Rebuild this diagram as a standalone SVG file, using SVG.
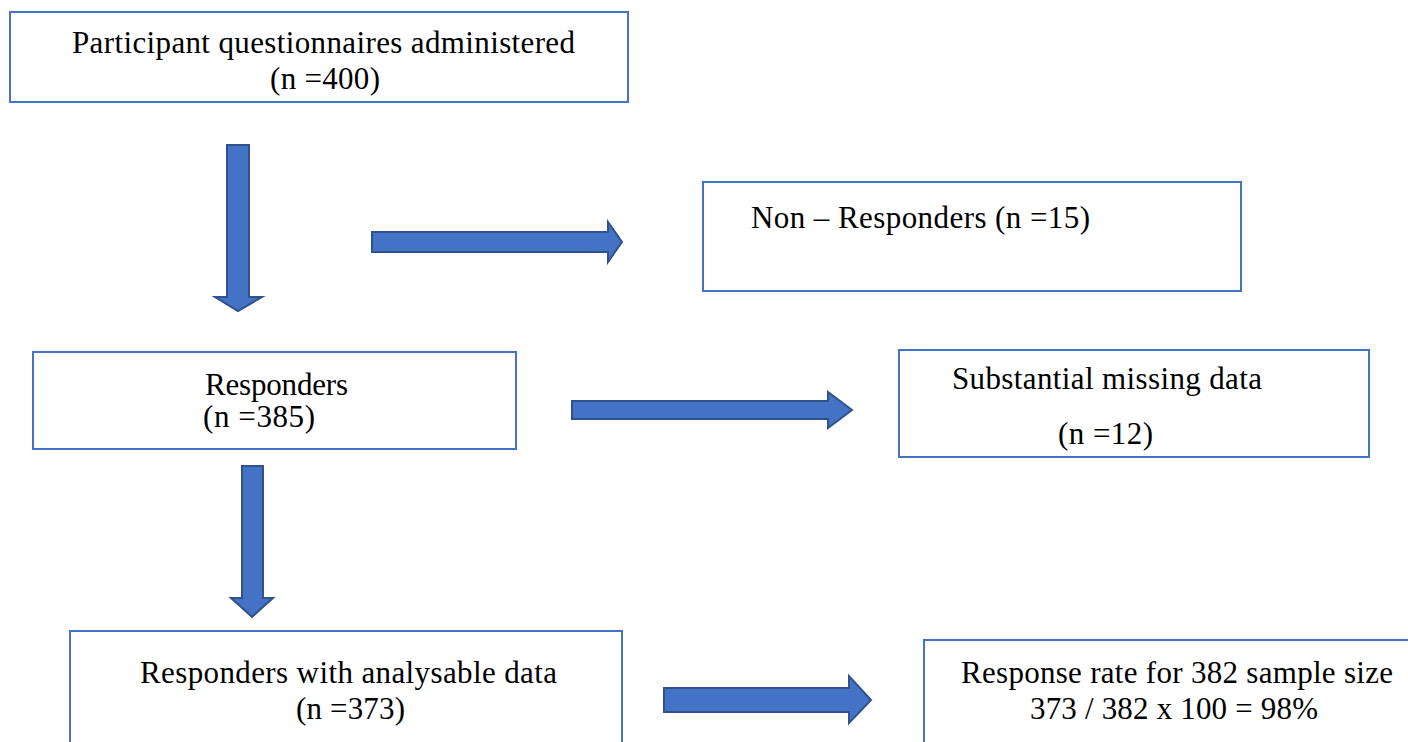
<svg xmlns="http://www.w3.org/2000/svg" width="1408" height="742" viewBox="0 0 1408 742">
<style>
.box{fill:#fff;stroke:#4472C4;stroke-width:2}
.arr{fill:#4472C4;stroke:#2F528F;stroke-width:2;stroke-linejoin:miter}
text{font-family:"Liberation Serif","Times New Roman",serif;font-size:31px;fill:#000}
</style>
<rect width="1408" height="742" fill="#fff"/>
<g id="n1"><rect class="box" x="10" y="12" width="618" height="90"/>
<text x="72" y="53" textLength="503">Participant questionnaires administered</text>
<text x="270" y="89" textLength="110">(n =400)</text></g>
<g id="n2"><rect class="box" x="703" y="182" width="538" height="109"/>
<text x="751" y="228" textLength="339">Non – Responders (n =15)</text></g>
<g id="n3"><rect class="box" x="33" y="352" width="483" height="97"/>
<text x="205" y="395" textLength="143">Responders</text>
<text x="203" y="427" textLength="112">(n =385)</text></g>
<g id="n4"><rect class="box" x="899" y="350" width="470" height="107"/>
<text x="952" y="389" textLength="310">Substantial missing data</text>
<text x="1058" y="444" textLength="95">(n =12)</text></g>
<g id="n5"><rect class="box" x="70" y="631" width="552" height="120"/>
<text x="140" y="683" textLength="417">Responders with analysable data</text>
<text x="296" y="719" textLength="109">(n =373)</text></g>
<g id="n6"><rect class="box" x="924" y="640" width="500" height="120"/>
<text x="961" y="683" textLength="432">Response rate for 382 sample size</text>
<text x="1030" y="719" textLength="288">373 / 382 x 100 = 98%</text></g>
<g id="connectors">
<path class="arr" d="M227,145 H249 V297 H262 L238,311 L215,297 H227 Z"/>
<path class="arr" d="M372,232 V252 H608 V262 L622,242 L608,222 V232 Z"/>
<path class="arr" d="M572,401 V419 H828 V428 L852,410 L828,392 V401 Z"/>
<path class="arr" d="M242,466 H263 V598 H273 L252,617 L231,598 H242 Z"/>
<path class="arr" d="M664,688 V712 H849 V723 L871,700 L849,676 V688 Z"/>
</g>
</svg>
